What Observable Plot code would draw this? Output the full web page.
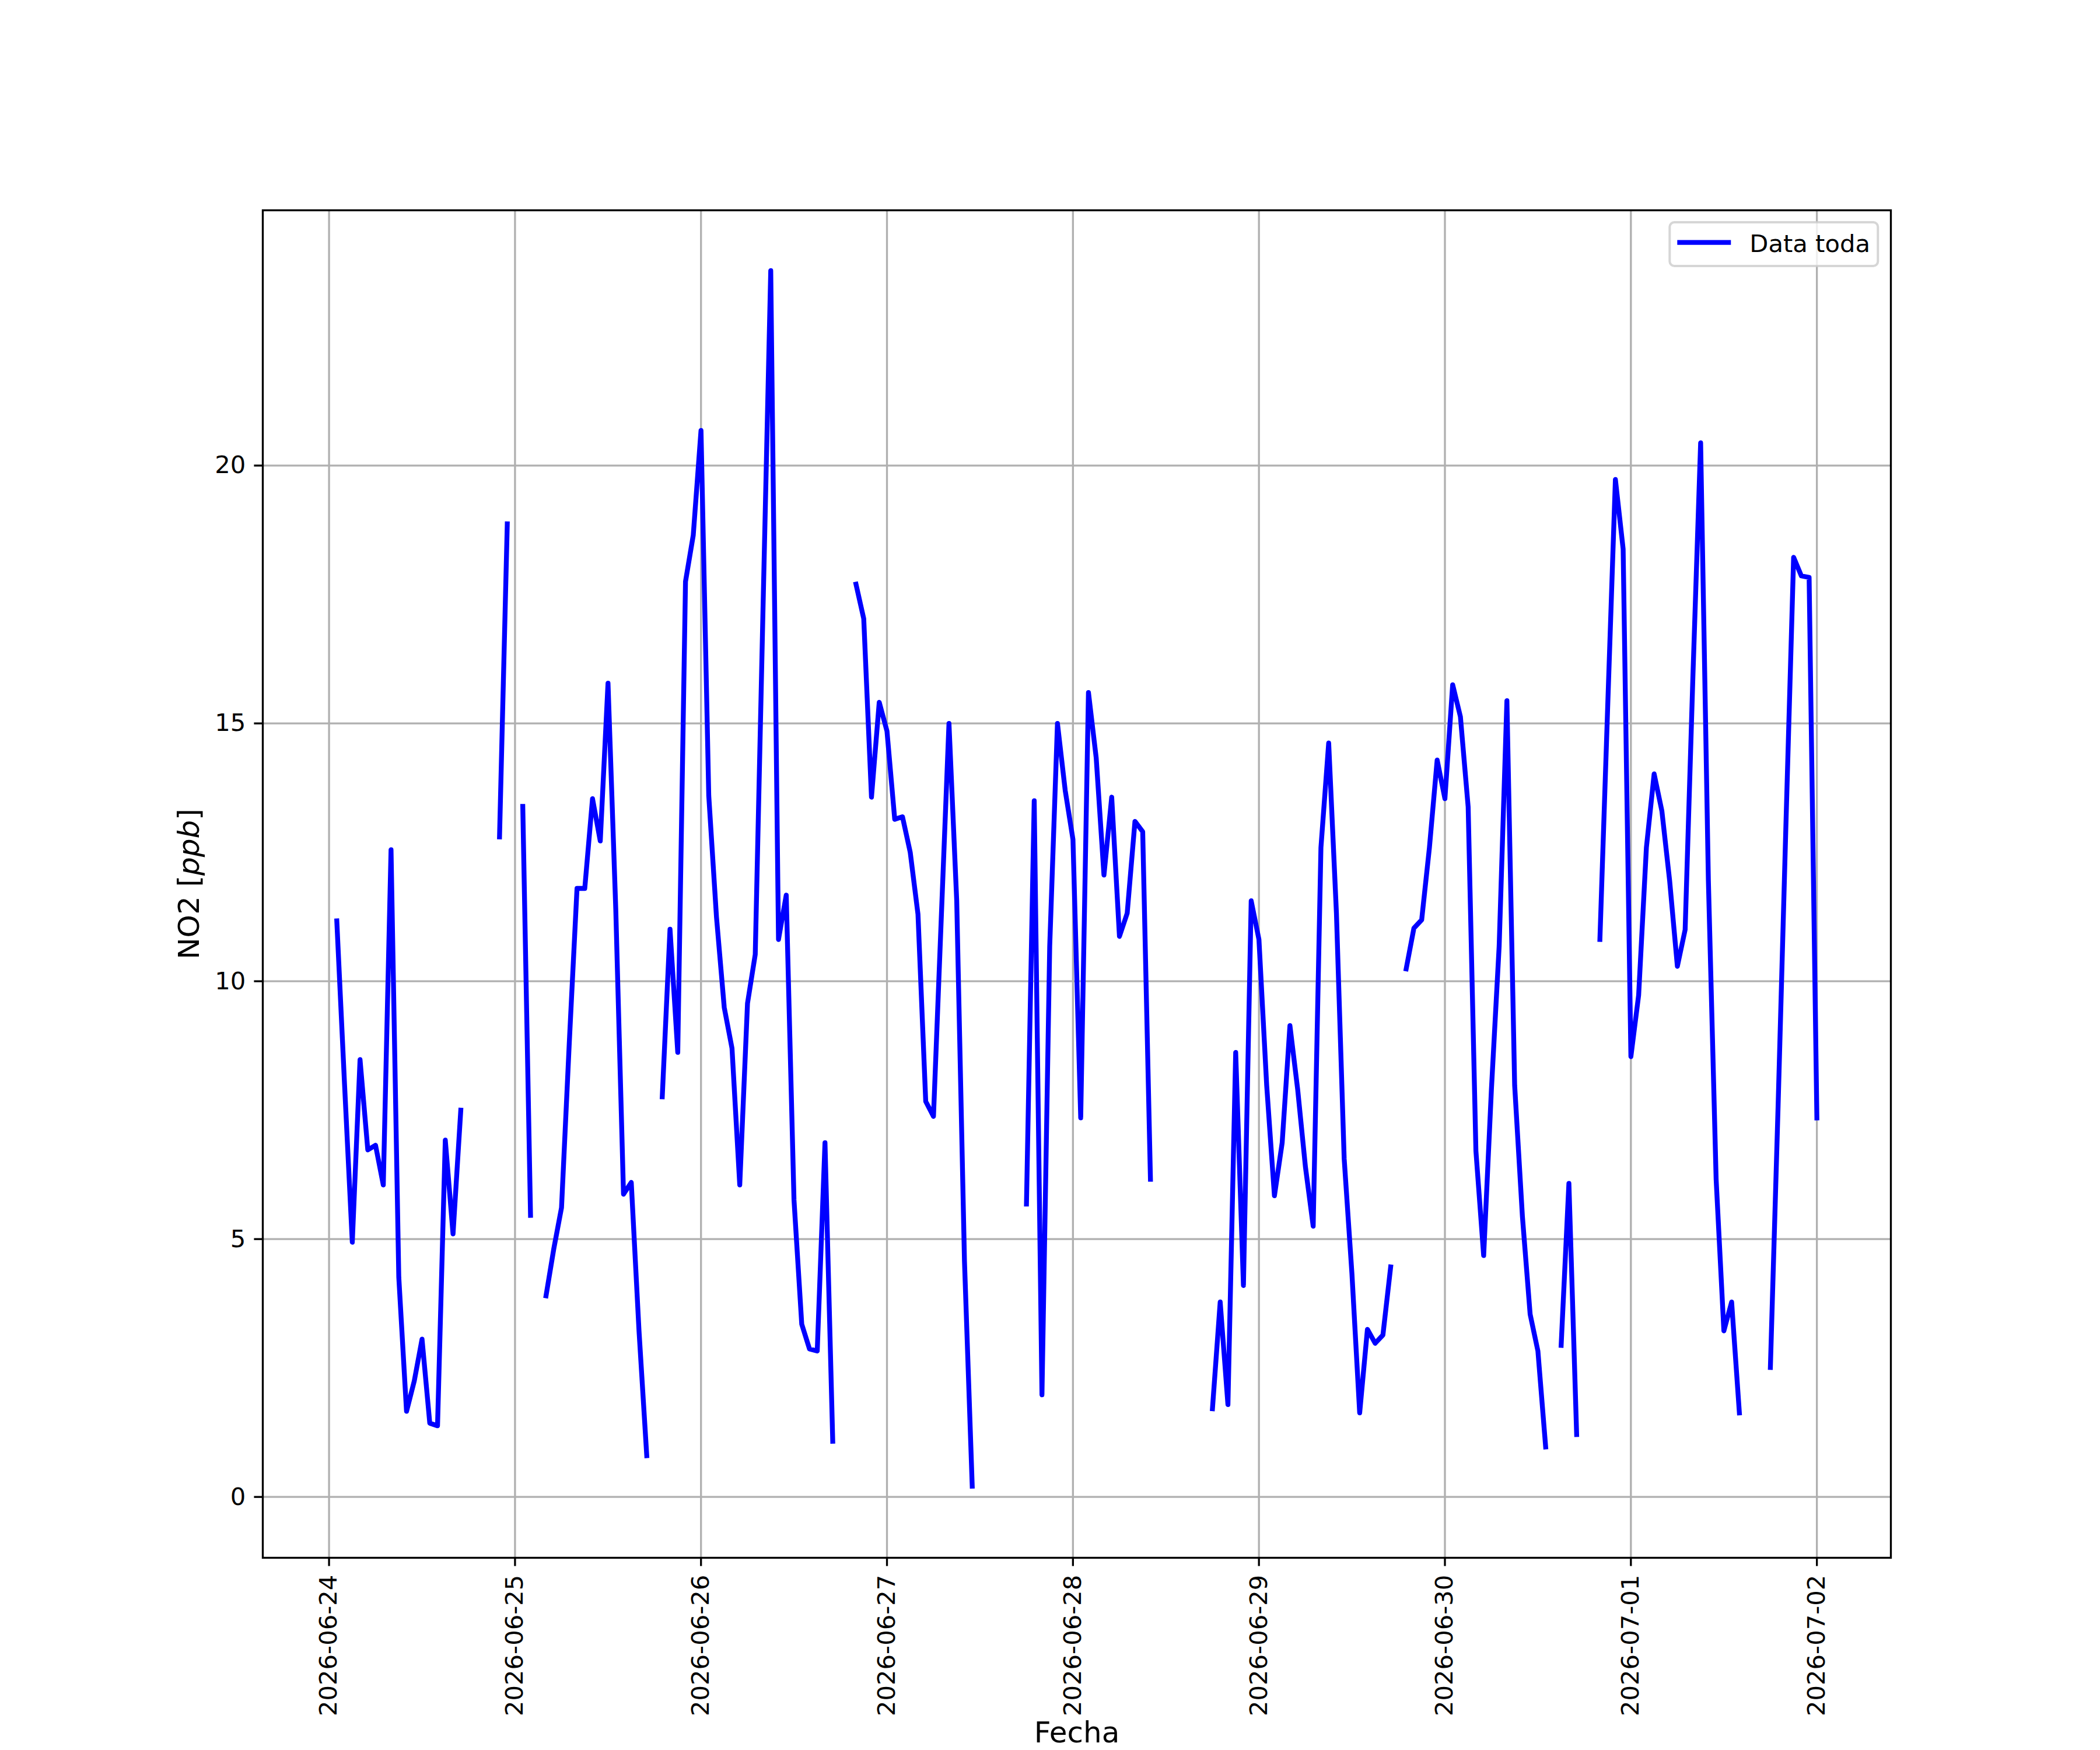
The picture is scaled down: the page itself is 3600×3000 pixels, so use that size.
<!DOCTYPE html>
<html>
<head>
<meta charset="utf-8">
<script src="https://cdn.jsdelivr.net/npm/d3@7"></script>
<script src="https://cdn.jsdelivr.net/npm/@observablehq/plot@0.6"></script>
<style>
html, body { margin: 0; padding: 0; background: #fff; overflow: hidden; }
</style>
</head>
<body>
<div id="chart"></div>
<script>
// ---- data (hourly NO2 readings, null = no data) ----
const tickLabels = ["2026-06-24","2026-06-25","2026-06-26","2026-06-27","2026-06-28","2026-06-29","2026-06-30","2026-07-01","2026-07-02"];
const yTicks = [0, 5, 10, 15, 20];
const seriesName = "Data toda";
const xLabel = "Fecha";
const yLabel = "NO2 [ppb]";

const jun24 = [null, 11.17, 8.0, 4.94, 8.48, 6.73, 6.82, 6.05, 12.55, 4.26, 1.66, 2.25, 3.06, 1.43, 1.38, 6.92, 5.1, 7.5, null, null, null, null, 12.8, 18.87];
const jun25 = [null, 13.39, 5.46, null, 3.9, 4.81, 5.61, 8.8, 11.8, 11.8, 13.54, 12.72, 15.78, 11.4, 5.87, 6.1, 3.22, 0.8, null, 7.76, 11.01, 8.62, 17.75, 18.65];
const jun26 = [20.68, 13.6, 11.24, 9.49, 8.7, 6.05, 9.57, 10.52, 17.2, 23.78, 10.81, 11.67, 5.76, 3.35, 2.87, 2.83, 6.87, 1.08, null, null, 17.7, 17.03, 13.57, 15.41];
const jun27 = [14.85, 13.14, 13.19, 12.5, 11.3, 7.67, 7.38, 11.2, 15.0, 11.56, 4.57, 0.21, null, null, null, null, null, null, 5.68, 13.5, 1.98, 10.68, 15.0, 13.7];
const jun28 = [12.75, 7.35, 15.6, 14.33, 12.06, 13.57, 10.87, 11.32, 13.1, 12.9, 6.16, null, null, null, null, null, null, null, 1.71, 3.78, 1.79, 8.62, 4.1, 11.56];
const jun29 = [10.81, 7.98, 5.84, 6.87, 9.14, 7.9, 6.4, 5.25, 12.59, 14.62, 11.32, 6.56, 4.33, 1.63, 3.25, 2.98, 3.14, 4.46, null, 10.24, 11.03, 11.19, 12.59, 14.29];
const jun30 = [13.54, 15.75, 15.13, 13.38, 6.71, 4.68, 7.9, 10.68, 15.44, 7.98, 5.44, 3.54, 2.83, 0.97, null, 2.94, 6.08, 1.21, null, null, 10.81, 15.3, 19.73, 18.38];
const jul01 = [8.54, 9.73, 12.59, 14.02, 13.3, 11.95, 10.29, 11.0, 15.9, 20.44, 11.95, 6.16, 3.22, 3.78, 1.63, null, null, null, 2.51, 7.6, 13.0, 18.22, 17.86, 17.83];
const jul02 = [7.35];

const days = [jun24, jun25, jun26, jun27, jun28, jun29, jun30, jul01, jul02];

// ---- build table ----
const HOUR = 3600000;
const parseDay = d3.utcParse("%Y-%m-%d");
const fmtDay = d3.utcFormat("%Y-%m-%d");
const t0 = parseDay(tickLabels[0]).getTime();
const data = [];
days.forEach((arr, d) => arr.forEach((v, h) => {
  data.push({date: new Date(t0 + (d * 24 + h) * HOUR), value: v});
}));
const xTicks = tickLabels.map(parseDay);

// matplotlib-like 5% margins on x
const defined = data.filter(d => d.value != null);
const [xa, xb] = d3.extent(defined, d => d.date.getTime());
const xm = (xb - xa) * 0.05;
const xDomain = [new Date(xa - xm), new Date(xb + xm)];
const yDomain = [-1.18, 24.95];

// ---- layout (pixels) ----
const W = 3600, H = 3000;
const mL = 450, mR = 359, mT = 360, mB = 330;
const FS = 41.7;     // tick / legend font (10pt @300dpi)
const LFS = 50;      // axis label font (12pt @300dpi)
const LW = 3.33;

const chart = Plot.plot({
  width: W,
  height: H,
  marginLeft: mL,
  marginRight: mR,
  marginTop: mT,
  marginBottom: mB,
  style: {fontFamily: "DejaVu Sans", fontSize: FS + "px", background: "#fff", color: "#000"},
  x: {type: "utc", domain: xDomain},
  y: {domain: yDomain},
  marks: [
    Plot.gridX(xTicks, {stroke: "#b0b0b0", strokeOpacity: 1, strokeWidth: LW}),
    Plot.gridY(yTicks, {stroke: "#b0b0b0", strokeOpacity: 1, strokeWidth: LW}),
    Plot.line(data, {x: "date", y: "value", stroke: "#0000ff", strokeWidth: 8.33,
      strokeLinejoin: "round", strokeLinecap: "square", curve: "linear"}),
    Plot.frame({stroke: "#000", strokeWidth: LW}),
    Plot.axisX(xTicks, {
      tickFormat: d => fmtDay(d), tickSize: 14.6, tickPadding: 14.6, tickRotate: -90,
      strokeWidth: LW, label: null
    }),
    Plot.axisX({
      ticks: [], tickSize: 0, label: xLabel, labelAnchor: "center", labelOffset: 316,
      labelArrow: "none", fontSize: LFS
    }),
    Plot.axisY(yTicks, {
      tickFormat: d => String(d), tickSize: 14.6, tickPadding: 14.6,
      strokeWidth: LW, label: null
    }),
    Plot.axisY({
      ticks: [], tickSize: 0, label: yLabel, labelAnchor: "center", labelOffset: 145,
      labelArrow: "none", fontSize: LFS
    })
  ]
});

document.getElementById("chart").appendChild(chart);

const svg = d3.select(chart);

// italic "ppb" in the y label (mathtext style)
svg.selectAll("text").filter(function () { return this.textContent === yLabel; }).each(function () {
  const t = d3.select(this);
  t.text(null);
  t.append("tspan").text("NO2 [");
  t.append("tspan").attr("font-style", "italic").text("ppb");
  t.append("tspan").text("]");
});

// legend (upper right, inside axes)
const frameRight = W - mR;
const lg = svg.append("g").attr("font-family", "DejaVu Sans").attr("font-size", FS)
  .attr("text-anchor", "start");
const bx = frameRight - 21.7 - 357, by = mT + 21;
lg.append("rect").attr("x", bx).attr("y", by).attr("width", 357).attr("height", 75)
  .attr("rx", 8).attr("fill", "#fff").attr("fill-opacity", 0.8)
  .attr("stroke", "#cccccc").attr("stroke-opacity", 0.8).attr("stroke-width", 4);
lg.append("line").attr("x1", bx + 13).attr("x2", bx + 105)
  .attr("y1", by + 34.7).attr("y2", by + 34.7)
  .attr("stroke", "#0000ff").attr("stroke-width", 8.33);
lg.append("text").attr("x", bx + 137).attr("y", by + 51).attr("fill", "#000")
  .attr("text-anchor", "start").text(seriesName);
</script>
</body>
</html>
